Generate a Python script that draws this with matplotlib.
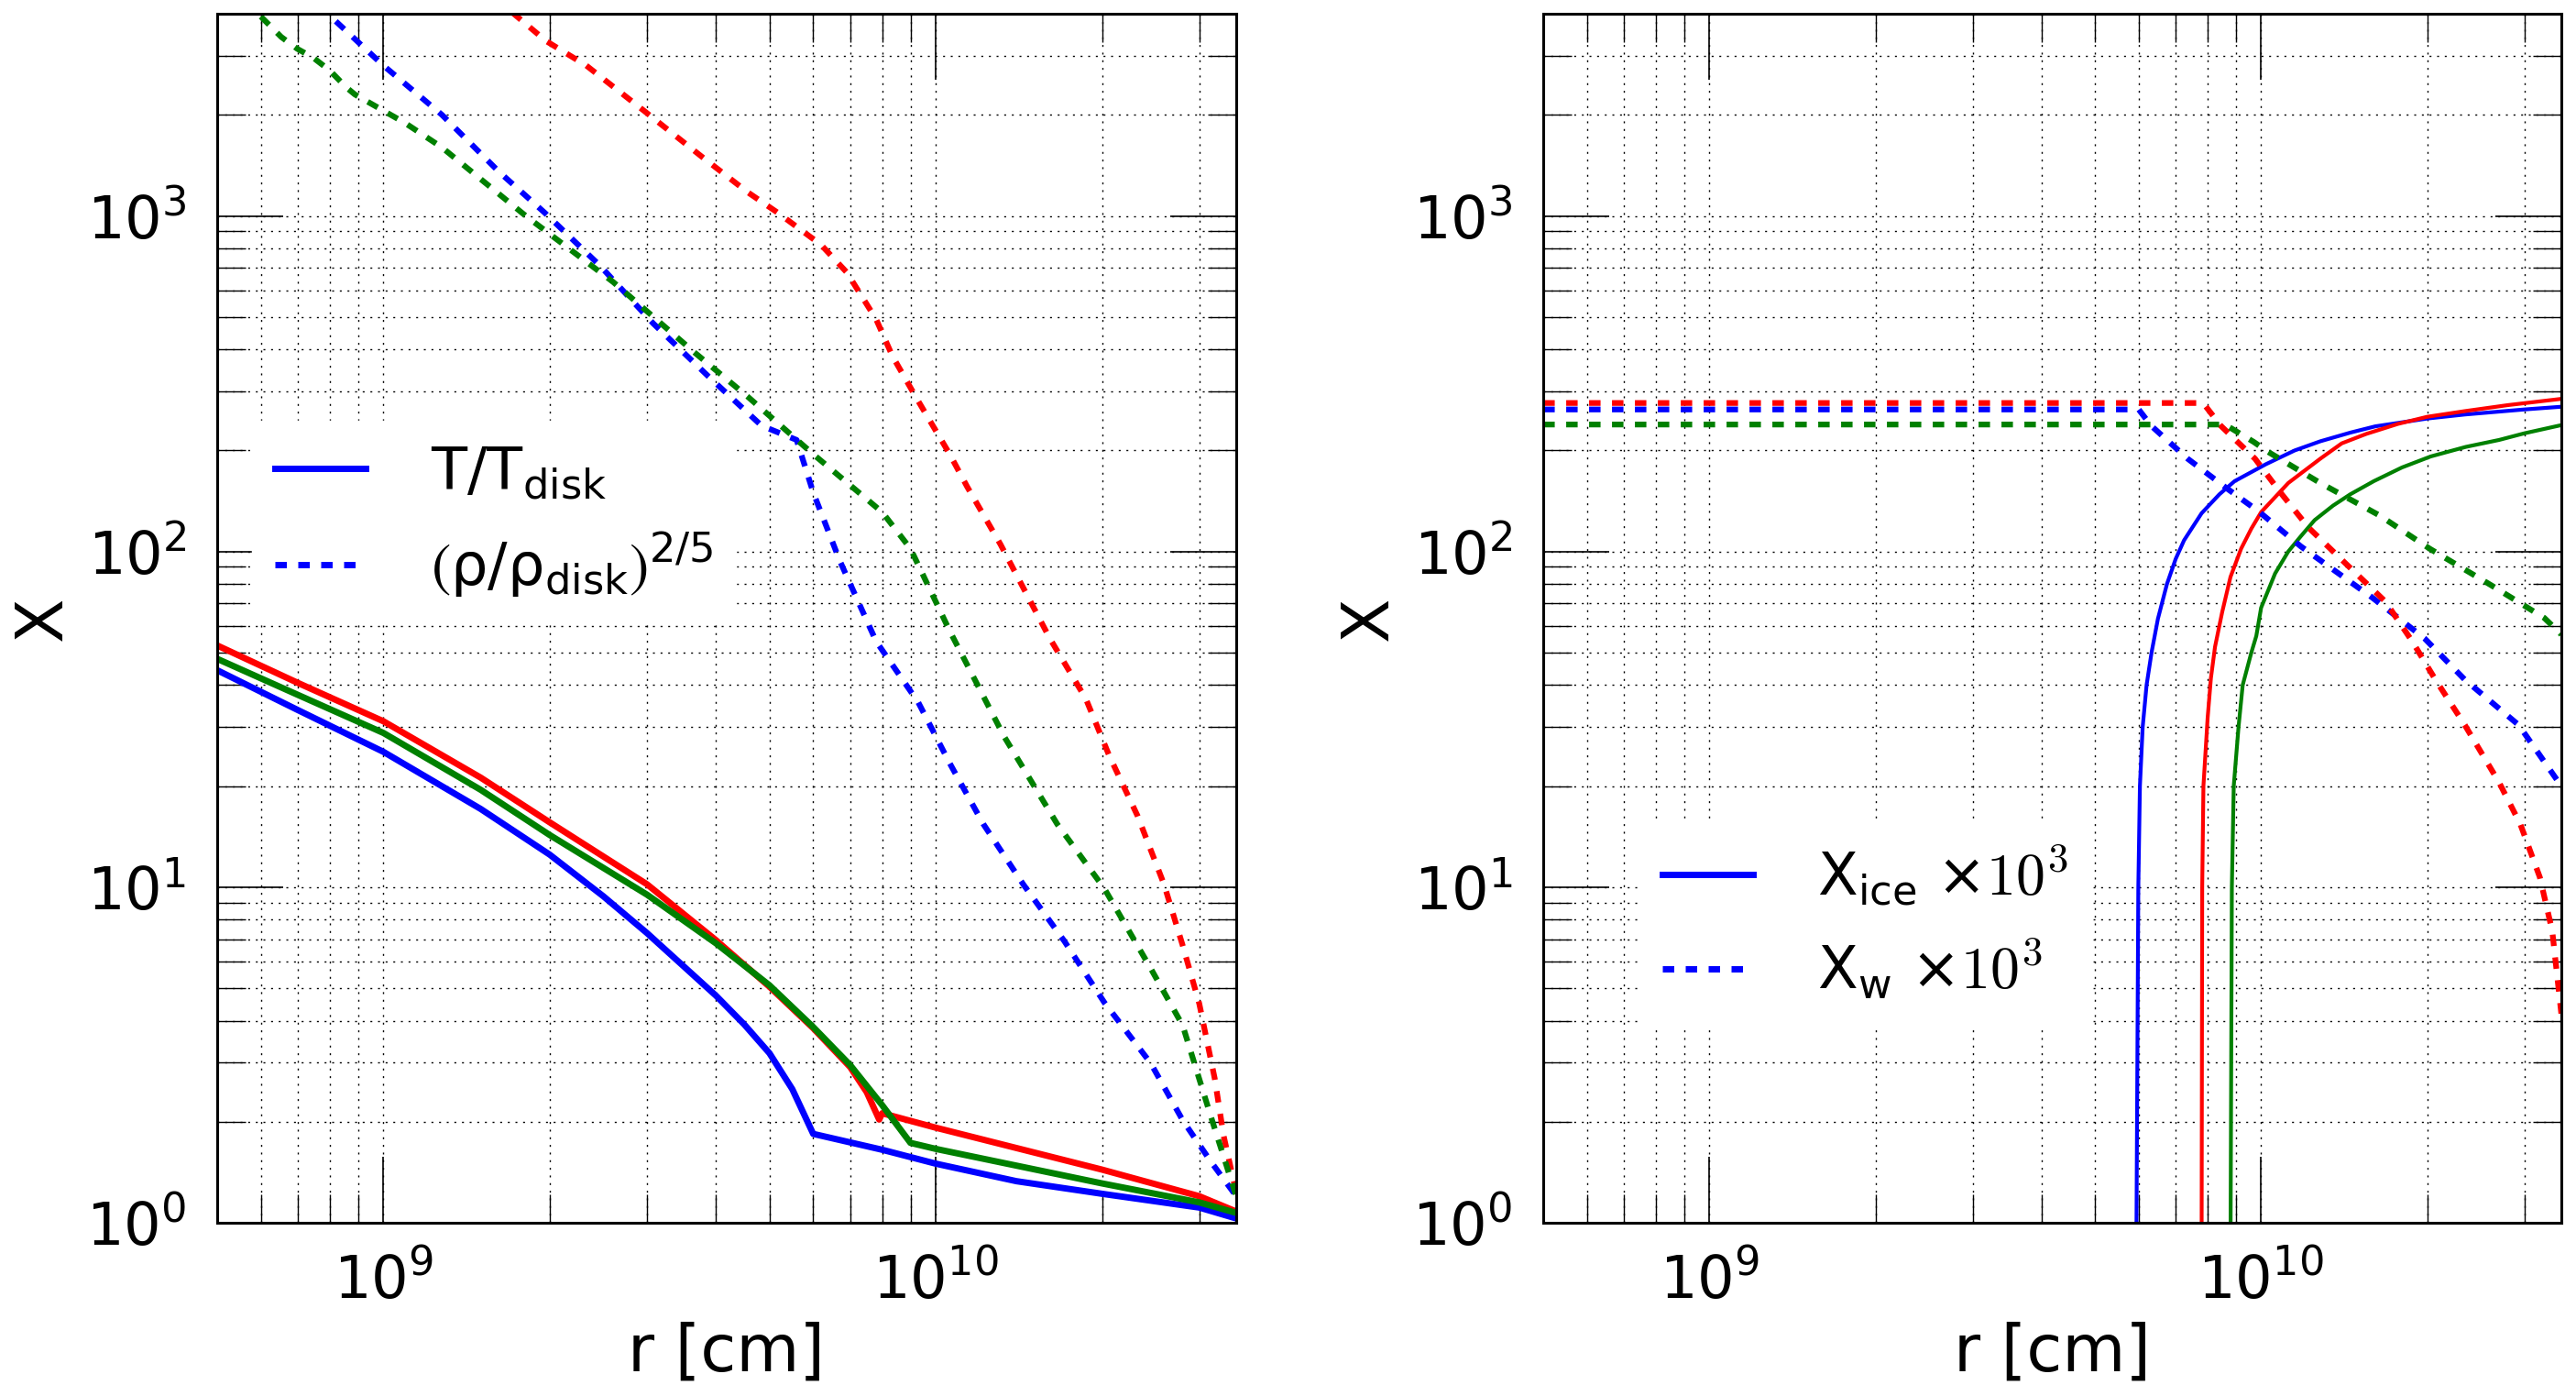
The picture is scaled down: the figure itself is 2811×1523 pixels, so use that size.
import numpy as np
import matplotlib
matplotlib.use("Agg")
import matplotlib.pyplot as plt
from matplotlib.lines import Line2D
from matplotlib.ticker import NullFormatter

plt.rcParams['font.family'] = ['DejaVu Sans']
plt.rcParams['mathtext.fontset'] = 'custom'
plt.rcParams['mathtext.rm'] = 'DejaVu Sans'
plt.rcParams['mathtext.it'] = 'DejaVu Sans:italic'
plt.rcParams['mathtext.bf'] = 'DejaVu Sans:bold'
plt.rcParams['mathtext.sf'] = 'DejaVu Sans'
plt.rcParams['mathtext.cal'] = 'cmr10'
plt.rcParams['mathtext.default'] = 'regular'
plt.rcParams['mathtext.fallback'] = 'stixsans'
plt.rcParams['lines.scale_dashes'] = False

# ---- left panel: T/T_disk (solid) and (rho/rho_disk)^(2/5) (dashed)
r_T_blue = [5e8, 7e8, 1e9, 1.5e9, 2e9, 2.5e9, 3e9, 3.5e9, 4e9, 4.5e9, 5e9, 5.5e9, 6e9,
            8e9, 1e10, 1.4e10, 2e10, 3e10, 3.5e10]
T_blue = [44.3, 33.7, 25.3, 17.1, 12.5, 9.4, 7.3, 5.8, 4.75, 3.9, 3.2, 2.5, 1.84,
          1.65, 1.50, 1.33, 1.22, 1.11, 1.03]

r_T_red = [5e8, 7e8, 1e9, 1.5e9, 2e9, 3e9, 4e9, 5e9, 6e9, 7e9, 7.5e9, 7.9e9, 8e9,
           1e10, 2e10, 3e10, 3.5e10]
T_red = [52.5, 40.6, 31.2, 21.2, 15.6, 10.2, 6.95, 5.05, 3.8, 2.91, 2.45, 2.03, 2.12,
         1.92, 1.44, 1.20, 1.08]

r_T_green = [5e8, 7e8, 1e9, 1.5e9, 2e9, 3e9, 4e9, 5e9, 6e9, 7e9, 8e9, 9e9,
             1e10, 2e10, 3e10, 3.5e10]
T_green = [47.9, 37.4, 28.8, 19.5, 14.3, 9.5, 6.8, 5.10, 3.83, 2.95, 2.24, 1.73,
           1.66, 1.31, 1.15, 1.07]

r_rho_blue = [8.2e8, 1e9, 1.276e9, 1.62e9, 1.96e9, 2.47e9, 3.08e9, 3.88e9, 4.84e9, 5.6e9, 6e9, 6.7e9,
              7.8e9, 9.3e9, 1.06e10, 1.22e10, 1.44e10, 1.71e10, 2.02e10, 2.45e10, 2.8e10, 3.15e10, 3.5e10]
rho_blue = [3800, 2805, 2001, 1352, 1021, 709, 478, 332, 237, 215, 150, 94,
            54, 35.5, 23.4, 15.4, 10.2, 6.9, 4.53, 2.99, 2.02, 1.52, 1.2]

r_rho_red = [1.71e9, 1.97e9, 2.33e9, 2.96e9, 3.75e9, 4.57e9, 5.18e9, 6.2e9, 6.9e9, 7.8e9, 8.35e9, 9.2e9,
             1.06e10, 1.14e10, 1.31e10, 1.61e10, 1.87e10, 2.06e10, 2.32e10, 2.59e10, 2.8e10, 3e10, 3.2e10, 3.32e10, 3.5e10]
rho_red = [4040, 3320, 2805, 2060, 1512, 1175, 1021, 820, 679, 492, 382, 289,
           195, 156, 105, 55, 36.4, 24.7, 16.3, 10.2, 6.7, 4.5, 2.69, 1.82, 1.23]

r_rho_green = [6e8, 6.53e8, 6.98e8, 7.47e8, 8e8, 8.56e8, 8.88e8, 1.094e9, 1.276e9, 1.81e9, 2.61e9, 3.65e9,
               4.57e9, 6e9, 8e9, 9e9, 1.06e10, 1.33e10, 1.66e10, 2.02e10, 2.45e10, 2.8e10, 3.15e10, 3.5e10]
rho_green = [3925, 3414, 3148, 2957, 2710, 2417, 2300, 1892, 1600, 1000, 634, 393,
             289, 195, 131, 102, 58, 28.1, 15.4, 9.9, 5.73, 3.87, 2.07, 1.2]

# ---- right panel: X_ice*1e3 (solid) and X_w*1e3 (dashed)
r_ice_blue = [5.94e9, 5.99e9, 6.03e9, 6.1e9, 6.2e9, 6.33e9, 6.5e9, 6.75e9, 7e9, 7.25e9, 7.8e9, 8.4e9,
              8.95e9, 1.02e10, 1.15e10, 1.28e10, 1.45e10, 1.61e10, 2e10, 2.34e10, 3e10, 3.5e10]
ice_blue = [0.8, 10, 20, 30, 40, 50, 63, 80, 95, 108, 130, 148,
            162, 182, 200, 213, 226, 236, 249, 256, 265, 270]

r_ice_red = [7.8e9, 7.82e9, 7.86e9, 8e9, 8.11e9, 8.25e9, 8.5e9, 8.8e9, 9.2e9, 9.6e9, 1e10, 1.12e10,
             1.28e10, 1.4e10, 1.55e10, 1.77e10, 2e10, 2.34e10, 2.8e10, 3.5e10]
ice_red = [0.8, 10, 20, 32, 42, 52, 66, 84, 102, 117, 131, 160,
           189, 210, 224, 240, 252, 262, 273, 285]

r_ice_green = [8.8e9, 8.85e9, 8.92e9, 9.1e9, 9.26e9, 9.6e9, 9.8e9, 1e10, 1.06e10, 1.12e10, 1.18e10,
               1.25e10, 1.35e10, 1.45e10, 1.6e10, 1.8e10, 2.03e10, 2.35e10, 2.7e10, 3e10, 3.5e10]
ice_green = [0.8, 10, 20, 30, 40, 50, 56, 68, 86, 100, 111,
             124, 137, 148, 162, 178, 192, 205, 215, 225, 238]

r_w_blue = [5e8, 6e9, 6.32e9, 7.36e9, 8.7e9, 9.9e9, 1.18e10, 1.59e10, 1.98e10, 2.34e10, 2.93e10, 3.5e10]
w_blue = [265, 265, 237, 189, 153.5, 131.6, 103.6, 72.9, 55, 41.5, 30.4, 20.0]

r_w_red = [5e8, 7.85e9, 8.45e9, 9.75e9, 1.08e10, 1.22e10, 1.43e10, 1.68e10, 1.88e10, 2.07e10, 2.34e10,
           2.7e10, 2.95e10, 3.2e10, 3.37e10, 3.5e10]
w_red = [277, 277, 237, 189, 151, 117.6, 91.4, 70.9, 53.9, 41.5, 30.4, 20.5, 15.4, 10.7, 7.4, 4.2]

r_w_green = [5e8, 8.6e9, 9.7e9, 1.03e10, 1.28e10, 1.64e10, 2.02e10, 2.61e10, 3.26e10, 3.5e10]
w_green = [239, 239, 212, 198, 160, 128, 102, 79.4, 63.4, 56.6]

dash = (0, (9, 9))


def style(ax):
    ax.set_xscale('log')
    ax.set_yscale('log')
    ax.set_xlim(5e8, 3.5e10)
    ax.set_ylim(1, 4000)
    ax.grid(True, which='both', color='k', ls=(0, (1.5, 4.5)), lw=1.0)
    ax.tick_params(which='both', direction='in', top=True, right=True, labelsize=46, pad=24)
    ax.tick_params(which='major', length=52, width=1.2)
    ax.tick_params(which='minor', length=22, width=1.0)
    ax.xaxis.set_minor_formatter(NullFormatter())
    ax.yaxis.set_minor_formatter(NullFormatter())
    for s in ax.spines.values():
        s.set_linewidth(2.2)
    ax.set_xlabel('r [cm]', fontsize=51, labelpad=8)
    ax.set_ylabel('X', fontsize=51, labelpad=9)


fig = plt.figure(figsize=(28.11, 15.23), dpi=100)
ax1 = fig.add_axes([0.0843, 0.1241, 0.3956, 0.866])
ax2 = fig.add_axes([0.5991, 0.1241, 0.3952, 0.866])

ax1.plot(r_T_blue, T_blue, color='b', lw=5)
ax1.plot(r_T_red, T_red, color='r', lw=5)
ax1.plot(r_T_green, T_green, color='g', lw=5)
ax1.plot(r_rho_blue, rho_blue, color='b', lw=4.5, ls=dash)
ax1.plot(r_rho_red, rho_red, color='r', lw=4.5, ls=dash)
ax1.plot(r_rho_green, rho_green, color='g', lw=4.5, ls=dash)
style(ax1)

h1 = [Line2D([], [], color='b', lw=5), Line2D([], [], color='b', lw=5, ls=dash)]
leg1 = ax1.legend(h1, [r'T/T$_{\rm disk}$', r'$\left(\rho/\rho_{\rm disk}\right)^{2/5}$'],
                  loc='center left', bbox_to_anchor=(0.034, 0.58), borderaxespad=0,
                  fontsize=46, handlelength=1.55, handletextpad=1.1, fancybox=False,
                  framealpha=1, edgecolor='white')

ax2.plot(r_ice_blue, ice_blue, color='b', lw=3)
ax2.plot(r_ice_red, ice_red, color='r', lw=3)
ax2.plot(r_ice_green, ice_green, color='g', lw=3)
ax2.plot(r_w_blue, w_blue, color='b', lw=4.5, ls=dash)
ax2.plot(r_w_red, w_red, color='r', lw=4.5, ls=dash)
ax2.plot(r_w_green, w_green, color='g', lw=4.5, ls=dash)
style(ax2)

h2 = [Line2D([], [], color='b', lw=5), Line2D([], [], color='b', lw=5, ls=dash)]
leg2 = ax2.legend(h2, [r'X$_{\rm ice}$ $\times\mathcal{10^3}$', r'X$_{\rm w}$ $\times\mathcal{10^3}$'],
                  loc='center left', bbox_to_anchor=(0.094, 0.249), borderaxespad=0,
                  fontsize=46, handlelength=1.55, handletextpad=1.1, fancybox=False,
                  framealpha=1, edgecolor='white')

fig.savefig('out.png', dpi=100)
